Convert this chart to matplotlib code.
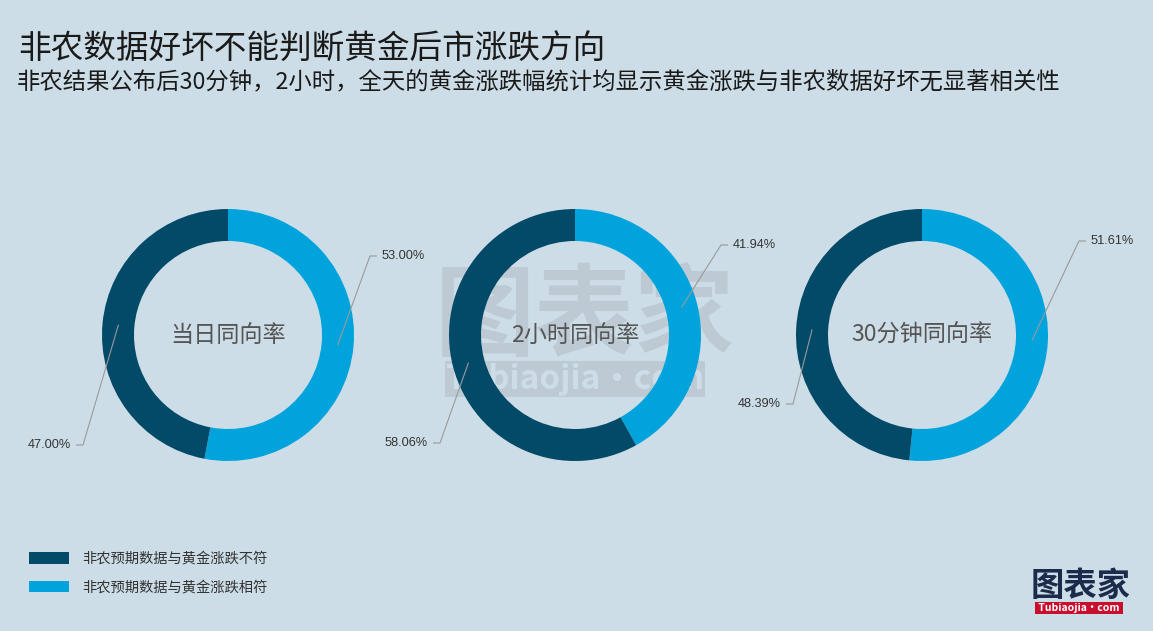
import numpy as np
import matplotlib
matplotlib.use("Agg")  # no display
import matplotlib.pyplot as plt
from matplotlib.patches import Patch

plt.rcParams["font.family"] = ["Noto Sans CJK SC", "DejaVu Sans"]

W, H = 1153, 631

# --- data -------------------------------------------------------------
ring_names   = ["当日同向率", "2小时同向率", "30分钟同向率"]
match_pct    = [53.00, 41.94, 51.61]   # 非农预期数据与黄金涨跌相符
mismatch_pct = [47.00, 58.06, 48.39]   # 非农预期数据与黄金涨跌不符
series_names = ["非农预期数据与黄金涨跌不符", "非农预期数据与黄金涨跌相符"]

title    = "非农数据好坏不能判断黄金后市涨跌方向"
subtitle = "非农结果公布后30分钟，2小时，全天的黄金涨跌幅统计均显示黄金涨跌与非农数据好坏无显著相关性"

# --- layout / style ---------------------------------------------------
BG    = "#cddde7"
DARK  = "#024a68"
LIGHT = "#00a3dc"
WM    = "#bdcad3"   # watermark grey

centers_x = [228, 575, 922]
center_y  = 335
R_OUT, RING = 126, 32

# label elbow offsets from each centre (px, y down): [match, mismatch]
elbow_off = [[(142, -79), (-145, 110)],
             [(146, -90), (-135, 108)],
             [(157, -94), (-129, 69)]]


def Y(y_px):
    return H - y_px


fig = plt.figure(figsize=(W / 100, H / 100), dpi=100, facecolor=BG)
ax = fig.add_axes([0, 0, 1, 1])
ax.set_facecolor(BG)

# watermark in the middle
ax.text(585, Y(318), "图表家", fontsize=72, fontweight="bold", color=WM,
        ha="center", va="center", zorder=0)
ax.text(575, Y(379), "Tubiaojia·com", fontsize=24, fontweight="bold", style="italic",
        color=BG, ha="center", va="center", zorder=0,
        bbox=dict(facecolor=WM, edgecolor="none", pad=1))

for i, cx in enumerate(centers_x):
    vals = [match_pct[i], mismatch_pct[i]]
    ax.pie(vals, colors=[LIGHT, DARK], center=(cx, Y(center_y)), radius=R_OUT,
           startangle=90, counterclock=False,
           wedgeprops=dict(width=RING, linewidth=0))

    ax.text(cx, Y(center_y), ring_names[i], fontsize=16.7, color="#555555",
            ha="center", va="center", zorder=5)

    # leader lines + percent labels
    cum = 0.0
    r_mid = R_OUT - RING / 2
    for j, v in enumerate(vals):
        theta = np.deg2rad((cum + v / 2) / 100 * 360)
        cum += v
        sx = cx + r_mid * np.sin(theta)
        sy = center_y - r_mid * np.cos(theta)
        ex = cx + elbow_off[i][j][0]
        ey = center_y + elbow_off[i][j][1]
        side = 1 if ex > cx else -1
        hx = ex + side * 7
        ax.plot([sx, ex, hx], [Y(sy), Y(ey), Y(ey)], color="#9a9a9a",
                lw=0.8, zorder=6, solid_capstyle="butt")
        ax.text(hx + side * 5, Y(ey), f"{v:.2f}%", fontsize=9.2, color="#333333",
                family=["Liberation Sans"], ha="left" if side > 0 else "right",
                va="center", zorder=6)

ax.set_xlim(0, W)
ax.set_ylim(0, H)
ax.set_aspect("equal")
ax.axis("off")

# titles
ax.text(18, Y(50), title, fontsize=23.5, color="#1a1a1a", ha="left", va="center")
ax.text(17, Y(82), subtitle, fontsize=16.8, color="#1a1a1a", ha="left", va="center")

# legend
handles = [Patch(facecolor=DARK, edgecolor="none"),
           Patch(facecolor=LIGHT, edgecolor="none")]
fig.legend(handles, series_names, loc="upper left",
           bbox_to_anchor=(29 / W, 1 - 552 / H), frameon=False, fontsize=10.3,
           handlelength=2.8, handleheight=0.84, handletextpad=0.95,
           labelspacing=1.03, borderpad=0, borderaxespad=0,
           labelcolor="#333333")

# logo bottom right
ax.text(1081, Y(586), "图表家", fontsize=24, fontweight="bold", color="#1b2b4b",
        ha="center", va="center")
ax.text(1079, Y(608), " Tubiaojia·com ", fontsize=7.5, fontweight="bold", style="italic",
        color="white", ha="center", va="center",
        bbox=dict(facecolor="#c8102e", edgecolor="none", pad=1))

fig.savefig("out.png", dpi=100, facecolor=BG)
